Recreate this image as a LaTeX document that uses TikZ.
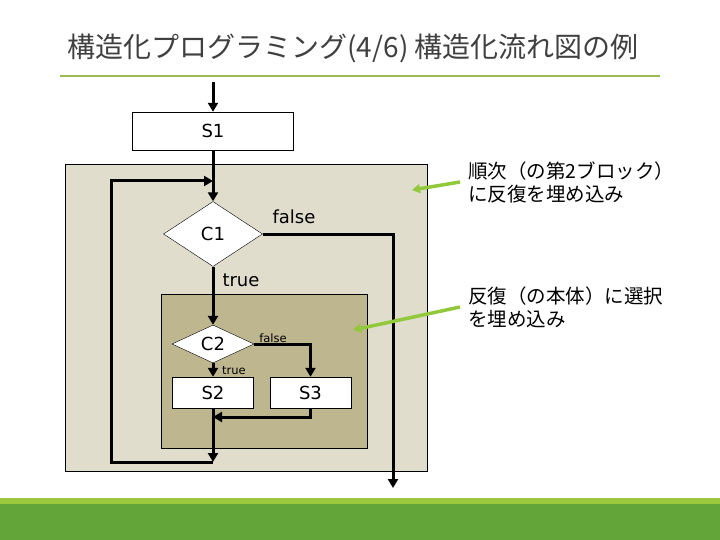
\documentclass[tikz,border=0pt]{standalone}
\usepackage{fontspec}
\setmainfont{DejaVu Sans}
\newfontfamily\jpfont{Noto Sans CJK JP}
\usetikzlibrary{shapes.geometric,arrows.meta,positioning}
\definecolor{titlegray}{RGB}{64,64,64}
\definecolor{rulegreen}{RGB}{155,187,89}
\definecolor{notegreen}{RGB}{146,200,60}
\definecolor{outerfill}{RGB}{224,221,204}
\definecolor{innerfill}{RGB}{189,182,143}
\definecolor{bandlight}{RGB}{155,200,60}
\definecolor{banddark}{RGB}{99,165,56}
\begin{document}
\begin{tikzpicture}[
       x=1pt, y=-1pt,
       proc/.style={rectangle, draw=black, fill=white, minimum width=81pt, minimum height=31pt, inner sep=0pt, font=\fontsize{18}{20}\selectfont},
       cond/.style={diamond, draw=black, fill=white, inner sep=0pt, font=\fontsize{18}{20}\selectfont},
       blockbox/.style={rectangle, draw=black, inner sep=0pt},
       flow/.style={-{Triangle[length=9pt,width=10pt]}, line width=3pt, black},
       notearrow/.style={-{Triangle[length=8pt,width=9pt]}, line width=3.5pt, notegreen},
       note/.style={anchor=west, align=left, inner sep=0pt, font=\jpfont\fontsize{19.5}{23}\selectfont}
   ]
   \useasboundingbox (0,0) rectangle (720,540);
   % title and bands
   \node[anchor=west, text=titlegray, font=\jpfont\fontsize{28}{32}\selectfont] (title) at (64,48) {構造化プログラミング(4/6) 構造化流れ図の例};
   \draw[rulegreen, line width=2pt] (60,76) -- (660,76);
   \fill[bandlight] (0,498) rectangle (720,504);
   \fill[banddark] (0,504) rectangle (720,540);

   % nested blocks
   \node[blockbox, fill=outerfill, minimum width=362pt, minimum height=307pt] (loopblk) at (246,317.5) {};
   \node[blockbox, fill=innerfill, minimum width=206pt, minimum height=154pt] (selblk) at (264,371) {};

   \node[proc, minimum width=161pt, minimum height=38pt] (s1) at (213,131) {S1};
   \node[cond, minimum width=99pt, minimum height=65pt] (c1) at (213,234) {C1};
   \node[cond, minimum width=82pt, minimum height=38pt] (c2) at (213,344) {C2};
   \node[proc] (s2) at (213,392.5) {S2};
   \node[proc] (s3) at (310.5,392.5) {S3};

   \node[font=\fontsize{18}{20}\selectfont] (c1false) at (294,217) {false};
   \node[font=\fontsize{18}{20}\selectfont] (c1true) at (241,280) {true};
   \node[font=\fontsize{11.5}{13}\selectfont] (c2false) at (273,338) {false};
   \node[font=\fontsize{11.5}{13}\selectfont] (c2true) at (234,371) {true};

   \coordinate (entry) at (213,82);
   \coordinate (loopin) at (213,181);
   \coordinate (merge) at (213,417);
   \coordinate (join) at (213,462);
   \coordinate (exit) at (393,488);

   \draw[flow] (entry) -- (s1);
   \draw[flow] (s1) -- (c1);
   \draw[flow] (c1) -- (c2);
   \draw[flow] (c1.east) -| (exit);
   \draw[flow] (c2) -- (s2);
   \draw[flow] (c2.east) -| (s3.north);
   \draw[flow] (s3.south) |- (merge);
   \draw[flow] (s2) -- (join);
   \draw[flow] (join) -- ++(-102,0) |- (loopin);

   % notes
   \node[note] (note1) at (468,182) {順次（の第2ブロック）\\に反復を埋め込み};
   \node[note] (note2) at (468,307) {反復（の本体）に選択\\を埋め込み};
   \coordinate (tip1) at (412,190);
   \coordinate (tip2) at (353,330);
   \draw[notearrow] ([xshift=-8pt]note1.west) -- (tip1);
   \draw[notearrow] ([xshift=-8pt]note2.west) -- (tip2);
\end{tikzpicture}
\end{document}
